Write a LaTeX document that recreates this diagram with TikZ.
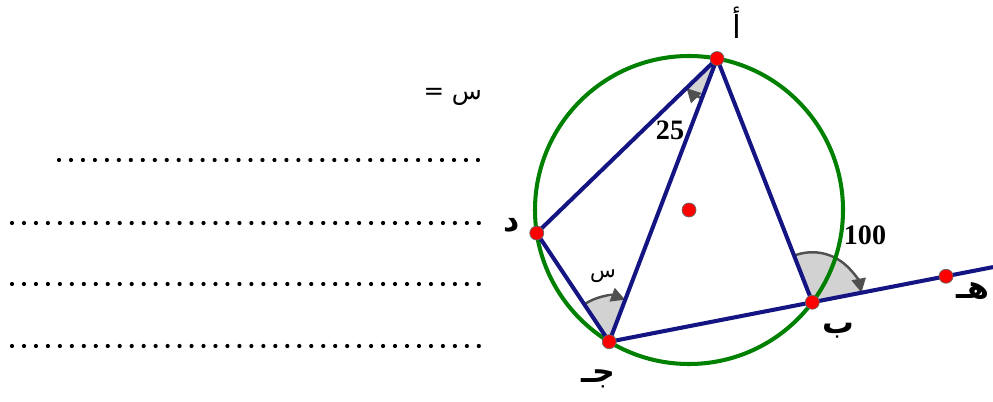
\documentclass[tikz,border=0pt]{standalone}
\usepackage{fontspec}
\setmainfont{Liberation Serif}
\newfontfamily\arabicfont[Script=Arabic]{DejaVu Sans}
\TeXXeTstate=1
\usetikzlibrary{arrows.meta}
\definecolor{circlegreen}{RGB}{0,128,0}
\definecolor{lineblue}{RGB}{20,20,130}
\definecolor{markgray}{RGB}{80,80,80}
\tikzset{
  markfill/.style={fill=gray!35},
  markarrow/.style={draw=markgray, line width=1.4pt, -{Triangle[length=8pt,width=8pt]}},
  pointdot/.style={fill=red, draw=black!60, line width=0.4pt},
  ptlabel/.style={font=\arabicfont\bfseries\fontsize{18}{21}\selectfont, inner sep=0pt},
  numlabel/.style={font=\bfseries\fontsize{16}{18}\selectfont, inner sep=0pt}
}
\begin{document}
\begin{tikzpicture}[line width=2.3pt, line join=round]
  \useasboundingbox (0,0) rectangle (19.860,8.020);
  \coordinate (O) at (13.780,3.820);
  \coordinate (A) at (14.341,6.849);
  \coordinate (D) at (10.735,3.359);
  \coordinate (C) at (12.184,1.185);
  \coordinate (B) at (16.246,1.975);
  \coordinate (E) at (18.920,2.495);
  \coordinate (F) at (19.860,2.678);
  % angle marks
  \fill[markfill] (A) -- ++(224.06:0.85) arc (224.06:249.15:0.85) -- cycle;
  \fill[markfill] (C) -- ++(69.15:0.90) arc (69.15:123.70:0.90) -- cycle;
  \fill[markfill] (B) -- ++(11.00:1.00) arc (11.00:111.35:1.00) -- cycle;
  \draw[markarrow] (A) ++(249.15:0.85) arc (249.15:224.06:0.85);
  \draw[markarrow] (C) ++(123.70:0.90) arc (123.70:69.15:0.90);
  \draw[markarrow] (B) ++(111.35:1.00) arc (111.35:11.00:1.00);
  % circle and lines
  \draw[circlegreen] (O) circle (3.080);
  \draw[lineblue] (A) -- (D) -- (C) -- (A);
  \draw[lineblue] (A) -- (B);
  \draw[lineblue] (C) -- (B) -- (E) -- (F);
  \foreach \p in {O,A,D,C,B,E}
    \draw[pointdot] (\p) circle (0.14);
  % labels
  \node[inner sep=0pt, font=\arabicfont\fontsize{18}{21}\selectfont] (lA) at (14.740,7.560) {أ};
  \node[ptlabel] (lD) at (10.230,3.520) {د};
  \node[ptlabel] (lC) at (11.960,0.440) {\beginR جـ\endR};
  \node[ptlabel] (lB) at (16.760,1.400) {ب};
  \node[ptlabel, anchor=east] (lE) at (19.830,2.200) {\beginR هـ\endR};
  \node[numlabel] (l25) at (13.400,5.420) {25};
  \node[numlabel] (l100) at (17.300,3.310) {100};
  \node[inner sep=0pt, font=\arabicfont\fontsize{12}{14}\selectfont] (lx) at (12.060,2.500) {س};
  % answer lines
  \node[anchor=east, inner sep=0pt, font=\arabicfont\fontsize{14}{17}\selectfont] (eq) at (9.680,6.080) {\beginR س =\endR};
  \foreach \i in {0,...,35}
    \fill (1.180+0.2394*\i,4.820) circle (0.042);
  \foreach \y in {3.560,2.340,1.100}
    \foreach \i in {0,...,39}
      \fill (0.240+0.2394*\i,\y) circle (0.042);
\end{tikzpicture}
\end{document}
